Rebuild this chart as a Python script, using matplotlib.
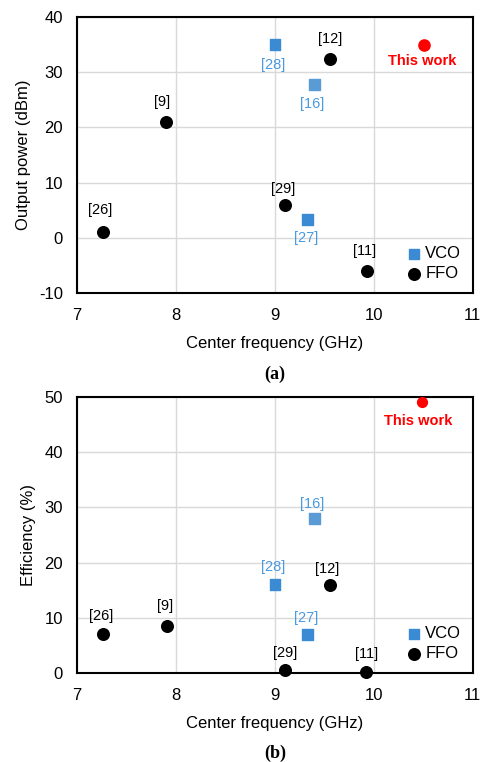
import matplotlib.pyplot as plt

plt.rcParams['font.family'] = ['Liberation Sans', 'DejaVu Sans']
plt.rcParams['axes.unicode_minus'] = False

# (a) output power
vco_f_a = [9.0, 9.4, 9.33]
vco_p_a = [35.0, 27.8, 3.3]
vco_lab_a = ['[28]', '[16]', '[27]']
ffo_f_a = [9.56, 7.9, 9.1, 7.26, 9.93]
ffo_p_a = [32.3, 20.9, 6.0, 1.0, -6.0]
ffo_lab_a = ['[12]', '[9]', '[29]', '[26]', '[11]']
this_f_a, this_p_a = 10.51, 35.0

# (b) efficiency
vco_f_b = [9.4, 9.0, 9.33]
vco_e_b = [28.0, 16.0, 7.0]
vco_lab_b = ['[16]', '[28]', '[27]']
ffo_f_b = [9.56, 7.91, 7.26, 9.1, 9.92]
ffo_e_b = [16.0, 8.6, 7.0, 0.6, 0.1]
ffo_lab_b = ['[12]', '[9]', '[26]', '[29]', '[11]']
this_f_b, this_e_b = 10.49, 49.2

BLUE = '#3a8ad4'
BLUE_LIGHT = '#5b9bd5'
TXT_BLUE = '#4a9ae0'
RED = '#ff0000'

fig = plt.figure(figsize=(4.84, 7.62), dpi=100)
ax1 = fig.add_axes([0.159, 0.6155, 0.818, 0.3622])
ax2 = fig.add_axes([0.159, 0.1168, 0.818, 0.362])


def style(ax, ylim, yticks, ylabel):
    ax.set_xlim(7, 11)
    ax.set_ylim(*ylim)
    ax.set_xticks([7, 8, 9, 10, 11])
    ax.set_yticks(yticks)
    ax.grid(True, color='#d9d9d9', linewidth=1)
    ax.set_axisbelow(True)
    for s in ax.spines.values():
        s.set_linewidth(1.5)
    ax.tick_params(labelsize=12, length=0)
    ax.tick_params(axis='x', pad=11)
    ax.tick_params(axis='y', pad=10)
    ax.set_xlabel('Center frequency (GHz)', fontsize=12, labelpad=9)
    ax.set_ylabel(ylabel, fontsize=12, labelpad=6)


def label(ax, x, y, txt, dx, dy, color='black'):
    ax.annotate(txt, (x, y), xytext=(dx, dy), textcoords='offset points',
                ha='center', va='center', fontsize=10.5, color=color)


# ---- (a)
ax1.scatter(vco_f_a, vco_p_a, marker='s', s=60, color=[BLUE, BLUE_LIGHT, BLUE], label='VCO', zorder=3)
ax1.scatter(ffo_f_a, ffo_p_a, marker='o', s=70, color='black', label='FFO', zorder=3)
ax1.scatter([this_f_a], [this_p_a], marker='o', s=65, color=RED, zorder=3)
offs_vco_a = [(-1.5, -14.5), (-2, -14), (-1, -13)]
for x, y, t, o in zip(vco_f_a, vco_p_a, vco_lab_a, offs_vco_a):
    label(ax1, x, y, t, o[0], o[1], TXT_BLUE)
offs_ffo_a = [(-0.5, 14.5), (-3, 14.5), (-1.5, 11.5), (-1.5, 16), (-2, 14.5)]
for x, y, t, o in zip(ffo_f_a, ffo_p_a, ffo_lab_a, offs_ffo_a):
    label(ax1, x, y, t, o[0], o[1])
ax1.annotate('This work', (this_f_a, this_p_a), xytext=(-1.5, -11.5), textcoords='offset points',
             ha='center', va='center', fontsize=10.5, color=RED, fontweight='bold')
style(ax1, (-10, 40), [-10, 0, 10, 20, 30, 40], 'Output power (dBm)')
leg1 = ax1.legend(loc='lower right', frameon=False, fontsize=12, handletextpad=0.1,
                  borderaxespad=0.3, labelspacing=0.3, handlelength=1.2)
leg1.legend_handles[0].set_color(BLUE)
fig.text(0.568, 1 - 374 / 762, '(a)', ha='center', va='center', fontsize=13,
         fontweight='bold', family='Liberation Serif')

# ---- (b)
ax2.scatter(vco_f_b, vco_e_b, marker='s', s=60, color=[BLUE_LIGHT, BLUE, BLUE], label='VCO',
            zorder=3)
ax2.scatter(ffo_f_b, ffo_e_b, marker='o', s=70, color='black', label='FFO', zorder=3, clip_on=False)
ax2.scatter([this_f_b], [this_e_b], marker='o', s=50, color=RED, zorder=3)
offs_vco_b = [(-1.5, 10.5), (-1.5, 13), (-1, 12)]
for x, y, t, o in zip(vco_f_b, vco_e_b, vco_lab_b, offs_vco_b):
    label(ax2, x, y, t, o[0], o[1], TXT_BLUE)
offs_ffo_b = [(-2, 11.5), (-1.5, 14), (-1, 13), (0, 12), (0.5, 13)]
for x, y, t, o in zip(ffo_f_b, ffo_e_b, ffo_lab_b, offs_ffo_b):
    label(ax2, x, y, t, o[0], o[1])
ax2.annotate('This work', (this_f_b, this_e_b), xytext=(-3, -14), textcoords='offset points',
             ha='center', va='center', fontsize=10.5, color=RED, fontweight='bold')
style(ax2, (0, 50), [0, 10, 20, 30, 40, 50], 'Efficiency (%)')
leg2 = ax2.legend(loc='lower right', frameon=False, fontsize=12, handletextpad=0.1,
                  borderaxespad=0.3, labelspacing=0.3, handlelength=1.2)
leg2.legend_handles[0].set_color(BLUE)
fig.text(0.568, 1 - 753 / 762, '(b)', ha='center', va='center', fontsize=13,
         fontweight='bold', family='Liberation Serif')

fig.savefig('out.png', dpi=100)
